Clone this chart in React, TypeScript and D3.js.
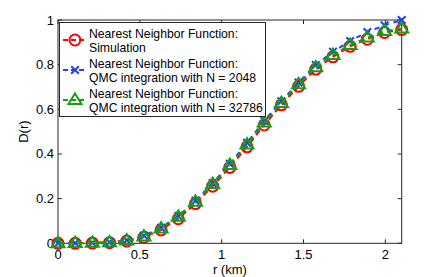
import * as d3 from 'd3';

const rValues = [0, 0.105, 0.21, 0.315, 0.42, 0.525, 0.63, 0.735, 0.84, 0.945, 1.05, 1.155, 1.26, 1.365, 1.47, 1.575, 1.68, 1.785, 1.89, 1.995, 2.1];
const simulation = [0, 0, 0.001, 0.003, 0.01, 0.027, 0.06, 0.11, 0.178, 0.256, 0.34, 0.432, 0.53, 0.62, 0.703, 0.78, 0.835, 0.882, 0.914, 0.944, 0.957];
const qmc2048 = [0, 0.001, 0.002, 0.005, 0.014, 0.034, 0.07, 0.122, 0.19, 0.27, 0.356, 0.45, 0.548, 0.636, 0.72, 0.798, 0.858, 0.906, 0.946, 0.976, 1.0];
const qmc32786 = [0, 0.001, 0.002, 0.004, 0.012, 0.03, 0.066, 0.118, 0.186, 0.265, 0.35, 0.442, 0.54, 0.628, 0.712, 0.788, 0.843, 0.888, 0.921, 0.95, 0.962];
const xTicks = [0, 0.5, 1, 1.5, 2];
const yTicks = [0, 0.2, 0.4, 0.6, 0.8, 1];
const legendLines = [
  ['Nearest Neighbor Function:', 'Simulation'],
  ['Nearest Neighbor Function:', 'QMC integration with N = 2048'],
  ['Nearest Neighbor Function:', 'QMC integration with N = 32786'],
];

const W = 443;
const H = 277;
const margin = { top: 20, right: 41.3, bottom: 33.7, left: 58 };
const font = '"Liberation Sans", Arial, Helvetica, sans-serif';
const axisColor = '#262626';

type Kind = 'circle' | 'cross' | 'triangle';
const series: { values: number[]; color: string; kind: Kind; dash: string }[] = [
  { values: simulation, color: '#ff0000', kind: 'circle', dash: '6,4' },
  { values: qmc2048, color: '#1f3cff', kind: 'cross', dash: '5,5' },
  { values: qmc32786, color: '#14a014', kind: 'triangle', dash: '6,4' },
];

function Marker({ kind, x, y, color }: { kind: Kind; x: number; y: number; color: string }) {
  if (kind === 'circle') {
    return <circle cx={x} cy={y} r={5.5} fill="none" stroke={color} strokeWidth={2} />;
  }
  if (kind === 'cross') {
    const s = 3.8;
    return (
      <path
        d={`M${x - s},${y - s}L${x + s},${y + s}M${x - s},${y + s}L${x + s},${y - s}`}
        stroke={color}
        strokeWidth={2}
        fill="none"
      />
    );
  }
  const h = 6.5;
  return (
    <path
      d={`M${x},${y - h}L${x + h},${y + h * 0.6}L${x - h},${y + h * 0.6}Z`}
      fill="none"
      stroke={color}
      strokeWidth={2}
      strokeLinejoin="miter"
    />
  );
}

export default function App() {
  const x = d3.scaleLinear().domain([0, 2.1]).range([margin.left, W - margin.right]);
  const y = d3.scaleLinear().domain([0, 1]).range([H - margin.bottom, margin.top]);
  const [x0, x1] = x.range();
  const [y0, y1] = y.range();

  const line = (vals: number[]) =>
    d3.line<number>()
      .x((_, i) => x(rValues[i]))
      .y(d => y(d))(vals) ?? '';

  const tl = 4;

  return (
    <svg
      width={W}
      height={H}
      style={{ position: 'absolute', left: 0, top: 0, background: '#fff' }}
      fontFamily={font}
    >
      <rect x={0} y={0} width={W} height={H} fill="#fff" />

      {/* axes box */}
      <rect x={x0} y={y1} width={x1 - x0} height={y0 - y1} fill="none" stroke={axisColor} strokeWidth={1} />
      {xTicks.map(t => (
        <g key={'x' + t}>
          <line x1={x(t)} x2={x(t)} y1={y0} y2={y0 - tl} stroke={axisColor} />
          <line x1={x(t)} x2={x(t)} y1={y1} y2={y1 + tl} stroke={axisColor} />
          <text x={x(t)} y={y0 + 15.5} textAnchor="middle" fontSize={13} fill="#000">
            {t}
          </text>
        </g>
      ))}
      {yTicks.map(t => (
        <g key={'y' + t}>
          <line x1={x0} x2={x0 + tl} y1={y(t)} y2={y(t)} stroke={axisColor} />
          <line x1={x1} x2={x1 - tl} y1={y(t)} y2={y(t)} stroke={axisColor} />
          <text x={x0 - 4} y={y(t) + 4.5} textAnchor="end" fontSize={13} fill="#000">
            {t}
          </text>
        </g>
      ))}
      <text x={(x0 + x1) / 2} y={274} textAnchor="middle" fontSize={13} fill="#000">
        r (km)
      </text>
      <text
        transform={`translate(28,${(y0 + y1) / 2}) rotate(-90)`}
        textAnchor="middle"
        fontSize={13}
        fill="#000"
      >
        D(r)
      </text>

      {/* series */}
      {series.map((s, si) => (
        <g key={si}>
          <path d={line(s.values)} fill="none" stroke={s.color} strokeWidth={2} strokeDasharray={s.dash} />
          {s.values.map((v, i) => (
            <Marker key={i} kind={s.kind} x={x(rValues[i])} y={y(v)} color={s.color} />
          ))}
        </g>
      ))}

      {/* legend */}
      <rect x={59.5} y={22.5} width={206} height={94} fill="#fff" stroke={axisColor} strokeWidth={1} />
      {series.map((s, i) => {
        const cy = 40 + 30 * i;
        return (
          <g key={'leg' + i}>
            <line x1={63} x2={87} y1={cy} y2={cy} stroke={s.color} strokeWidth={2} strokeDasharray="5,3" />
            <Marker kind={s.kind} x={75} y={cy} color={s.color} />
            <text x={89} y={cy - 2.5} fontSize={12.2} fill="#000">
              {legendLines[i][0]}
            </text>
            <text x={89} y={cy + 11.5} fontSize={12.2} fill="#000">
              {legendLines[i][1]}
            </text>
          </g>
        );
      })}
    </svg>
  );
}
